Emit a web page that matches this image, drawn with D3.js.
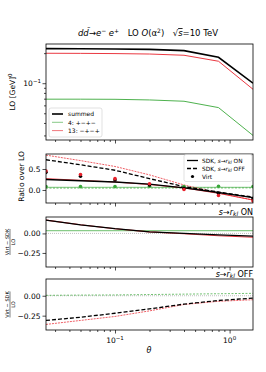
<!DOCTYPE html>
<html>
<head>
<meta charset="utf-8">
<script src="https://cdn.jsdelivr.net/npm/d3@7"></script>
<style>
body { margin: 0; background: #fff; }
text { font-family: "DejaVu Sans", sans-serif; fill: #000; }
</style>
</head>
<body>
<script>
// values
var theta = [0.025, 0.05, 0.1, 0.2, 0.4, 0.8, 1.6];

var loSummed = [0.222, 0.221, 0.220, 0.218, 0.212, 0.182, 0.100];
var loHel4   = [0.0692, 0.0692, 0.069, 0.068, 0.066, 0.057, 0.030];
var loHel13  = [0.1995, 0.199, 0.198, 0.196, 0.1905, 0.166, 0.087];

var sdkOnSum   = [0.25, 0.22, 0.19, 0.14, 0.05, -0.06, -0.18];
var sdkOnHel13 = [0.27, 0.23, 0.19, 0.13, 0.05, -0.08, -0.24];
var sdkOnHel4  = [0.06, 0.06, 0.06, 0.06, 0.06, 0.06, 0.06];
var sdkOffSum   = [0.72, 0.60, 0.47, 0.27, 0.08, -0.05, -0.17];
var sdkOffHel13 = [0.83, 0.70, 0.56, 0.36, 0.12, -0.07, -0.24];
var sdkOffHel4  = [0.045, 0.045, 0.045, 0.046, 0.047, 0.048, 0.05];
var virtSum   = [0.42, 0.33, 0.24, 0.12, 0.04, -0.08, -0.21];
var virtHel13 = [0.45, 0.37, 0.27, 0.15, 0.01, -0.13, -0.26];
var virtHel4  = [0.08, 0.08, 0.08, 0.09, 0.08, 0.09, 0.08];

var diffOnSum   = [0.17, 0.11, 0.06, 0.02, 0.0, -0.02, -0.035];
var diffOnHel13 = [0.17, 0.11, 0.06, 0.02, -0.005, -0.03, -0.05];
var diffOnHel4  = [0.035, 0.035, 0.035, 0.035, 0.035, 0.035, 0.035];
var diffOffSum   = [-0.31, -0.27, -0.22, -0.165, -0.105, -0.06, -0.03];
var diffOffHel13 = [-0.36, -0.31, -0.26, -0.19, -0.11, -0.07, -0.05];
var diffOffHel4  = [0.005, 0.008, 0.01, 0.015, 0.02, 0.025, 0.03];

var xMajor = [0.1, 1];
var xMinor = [0.03, 0.04, 0.05, 0.06, 0.07, 0.08, 0.09, 0.2, 0.3, 0.4, 0.5, 0.6, 0.7, 0.8, 0.9];
var loMajor = [0.1];
var loMinor = [0.03, 0.04, 0.05, 0.06, 0.07, 0.08, 0.09, 0.2];
var ratioTicks = [0, 0.5];
var diffTicks = [0, -0.25];

var black = "#000", red = "#e8212b", green = "#3aa83a";

var width = 266, height = 372;
var left = 46, right = 253;

var svg = d3.select("body").append("svg")
    .attr("width", width)
    .attr("height", height);

var x = d3.scaleLog().domain([0.025, 1.6]).range([left, right]);

var panels = [
    { top: 44, bottom: 140 },
    { top: 154, bottom: 203 },
    { top: 217, bottom: 267 },
    { top: 279, bottom: 330 }
];

var yLo = d3.scaleLog().domain([0.027, 0.247]).range([panels[0].bottom, panels[0].top]);
var yRatio = d3.scaleLinear().domain([-0.31, 0.857]).range([panels[1].bottom, panels[1].top]);
var yOn = d3.scaleLinear().domain([-0.43, 0.21]).range([panels[2].bottom, panels[2].top]);
var yOff = d3.scaleLinear().domain([-0.43, 0.21]).range([panels[3].bottom, panels[3].top]);
var yScales = [yLo, yRatio, yOn, yOff];

function clipFor(i) {
    svg.append("clipPath").attr("id", "clip" + i)
    .append("rect")
    .attr("x", left).attr("y", panels[i].top)
    .attr("width", right - left).attr("height", panels[i].bottom - panels[i].top);
    return svg.append("g").attr("clip-path", "url(#clip" + i + ")");
}

function drawLine(g, y, vals, color, w, dash, op) {
    var line = d3.line()
    .x(function(d, i) { return x(theta[i]); })
    .y(function(d) { return y(d); });
    g.append("path")
    .datum(vals)
    .attr("d", line)
    .attr("fill", "none")
    .attr("stroke", color)
    .attr("stroke-width", w)
    .attr("stroke-dasharray", dash || null)
    .attr("opacity", op || 1);
}

function drawDots(g, y, vals, color) {
    g.selectAll(null)
    .data(vals)
    .enter().append("circle")
    .attr("cx", function(d, i) { return x(theta[i]); })
    .attr("cy", function(d) { return y(d); })
    .attr("r", 1.8)
    .attr("fill", color);
}

function xAxis(i, labels) {
    var g = svg.append("g").attr("transform", "translate(0," + panels[i].bottom + ")");
    g.call(d3.axisBottom(x).tickValues(xMajor).tickSize(3.5).tickFormat(""));
    g.append("g").call(d3.axisBottom(x).tickValues(xMinor).tickSize(2).tickFormat(""));
    g.selectAll(".domain").remove();
    g.selectAll("line").attr("stroke-width", 0.7);
    if (labels) {
        var t = g.selectAll(null).data(xMajor).enter().append("text")
        .attr("x", function(d) { return x(d); })
        .attr("y", 13)
        .attr("text-anchor", "middle")
        .attr("font-size", 7.5);
        t.text("10");
        t.append("tspan").attr("dy", -3).attr("font-size", 5.5)
        .text(function(d) { return d < 1 ? "\u22121" : "0"; });
    }
}

function frame(i) {
    svg.append("rect")
    .attr("x", left).attr("y", panels[i].top)
    .attr("width", right - left).attr("height", panels[i].bottom - panels[i].top)
    .attr("fill", "none")
    .attr("stroke", "#000")
    .attr("stroke-width", 0.8);
}

function yAxisLinear(i, ticks, fmt) {
    var g = svg.append("g").attr("transform", "translate(" + left + ",0)");
    g.call(d3.axisLeft(yScales[i]).tickValues(ticks).tickSize(3.5).tickPadding(2).tickFormat(fmt));
    g.selectAll(".domain").remove();
    g.selectAll("line").attr("stroke-width", 0.7);
    g.selectAll("text").attr("font-size", 7.5).style("font-family", "DejaVu Sans");
}

function skText(t, before, after, sub) {
    t.append("tspan").text(before);
    t.append("tspan").attr("font-style", "italic").text("s");
    t.append("tspan").text("\u2192");
    t.append("tspan").attr("font-style", "italic").text("r");
    t.append("tspan").attr("font-style", "italic").attr("font-size", sub).attr("dy", 1.5).text("kl");
    t.append("tspan").attr("dy", -1.5).text(after);
}

// ---- panel 1: LO
var g0 = clipFor(0);
drawLine(g0, yLo, loHel4, green, 0.9);
drawLine(g0, yLo, loHel13, red, 0.9);
drawLine(g0, yLo, loSummed, black, 1.6);

var ya = svg.append("g").attr("transform", "translate(" + left + ",0)");
ya.call(d3.axisLeft(yLo).tickValues(loMajor).tickSize(3.5).tickFormat(""));
ya.append("g").call(d3.axisLeft(yLo).tickValues(loMinor).tickSize(2).tickFormat(""));
ya.selectAll(".domain").remove();
ya.selectAll("line").attr("stroke-width", 0.7);
var lt = ya.append("text").attr("x", -5).attr("y", yLo(0.1) + 2.5)
.attr("text-anchor", "end").attr("font-size", 7.5).text("10");
lt.append("tspan").attr("dy", -3).attr("font-size", 5.5).text("\u22121");

svg.append("text")
.attr("transform", "translate(15," + ((panels[0].top + panels[0].bottom) / 2) + ")rotate(-90)")
.attr("text-anchor", "middle").attr("font-size", 7.5)
.text("LO [GeV]")
.append("tspan").attr("dy", -3).attr("font-size", 5.5).text("0");

// title
var title = svg.append("text")
.attr("x", 148).attr("y", 36)
.attr("text-anchor", "middle")
.attr("font-size", 8.5);
title.append("tspan").attr("font-style", "italic").text("dd\u0304");
title.append("tspan").text("\u2192");
title.append("tspan").attr("font-style", "italic").text("e");
title.append("tspan").attr("dy", -3.5).attr("font-size", 6).text("\u2212");
title.append("tspan").attr("dy", 3.5).attr("font-style", "italic").text(" e");
title.append("tspan").attr("dy", -3.5).attr("font-size", 6).text("+");
title.append("tspan").attr("dy", 3.5).text("\u2003LO ");
title.append("tspan").attr("font-style", "italic").text("O");
title.append("tspan").text("(\u03b1");
title.append("tspan").attr("dy", -3.5).attr("font-size", 6).text("2");
title.append("tspan").attr("dy", 3.5).text(")\u2003\u221a");
title.append("tspan").attr("font-style", "italic").attr("text-decoration", "overline").text("s");
title.append("tspan").text("=10 TeV");

// legend panel 1
var leg1 = svg.append("g").attr("transform", "translate(49,108)");
leg1.append("rect").attr("width", 53).attr("height", 29).attr("rx", 2)
.attr("fill", "#fff").attr("fill-opacity", 0.8).attr("stroke", "#ccc").attr("stroke-width", 0.6);
var leg1Items = [
    { label: "summed", color: black, w: 1.6, op: 1 },
    { label: "4: +\u2212+\u2212", color: green, w: 1, op: 0.6 },
    { label: "13: \u2212+\u2212+", color: red, w: 1, op: 0.6 }
];
leg1Items.forEach(function(d, i) {
    leg1.append("line").attr("x1", 3).attr("x2", 14)
    .attr("y1", 6 + i * 8.3).attr("y2", 6 + i * 8.3)
    .attr("stroke", d.color).attr("stroke-width", d.w).attr("opacity", d.op);
    leg1.append("text").attr("x", 19).attr("y", 8.2 + i * 8.3)
    .attr("font-size", 6).text(d.label);
});

frame(0);
xAxis(0, false);

// ---- panel 2: ratio over LO
var g1 = clipFor(1);
drawLine(g1, yRatio, sdkOnHel4, green, 1.3, null, 0.55);
drawLine(g1, yRatio, sdkOffHel4, green, 0.9, "2,1.5", 0.8);
drawLine(g1, yRatio, sdkOffHel13, red, 0.8, "2,1", 0.9);
drawLine(g1, yRatio, sdkOnHel13, red, 1, null, 0.9);
drawLine(g1, yRatio, sdkOffSum, black, 1.3, "4,2");
drawLine(g1, yRatio, sdkOnSum, black, 1.3);
drawDots(g1, yRatio, virtHel4, green);
drawDots(g1, yRatio, virtSum, black);
drawDots(g1, yRatio, virtHel13, red);

frame(1);
xAxis(1, false);
yAxisLinear(1, ratioTicks, d3.format(".1f"));
svg.append("text")
.attr("transform", "translate(24," + ((panels[1].top + panels[1].bottom) / 2 - 2) + ")rotate(-90)")
.attr("text-anchor", "middle").attr("font-size", 7.5)
.text("Ratio over LO");

var leg2 = svg.append("g").attr("transform", "translate(184,154.5)");
leg2.append("rect").attr("width", 68).attr("height", 27).attr("rx", 2)
.attr("fill", "#fff").attr("fill-opacity", 0.8).attr("stroke", "#ccc").attr("stroke-width", 0.6);
var leg2Items = [
    { tag: "ON", dash: null },
    { tag: "OFF", dash: "4,2" },
    { tag: null, dash: null }
];
leg2Items.forEach(function(d, i) {
    var yy = 6 + i * 8;
    if (d.tag) {
        leg2.append("line").attr("x1", 3).attr("x2", 14).attr("y1", yy).attr("y2", yy)
        .attr("stroke", black).attr("stroke-width", 1.3).attr("stroke-dasharray", d.dash);
        var t = leg2.append("text").attr("x", 18).attr("y", yy + 2).attr("font-size", 5.8);
        skText(t, "SDK, ", " " + d.tag, 4.5);
    } else {
        leg2.append("circle").attr("cx", 8.5).attr("cy", yy).attr("r", 1.6).attr("fill", black);
        leg2.append("text").attr("x", 18).attr("y", yy + 2).attr("font-size", 5.8).text("Virt");
    }
});

// ---- panel 3: s -> r_kl ON
var g2 = clipFor(2);
g2.append("line").attr("x1", left).attr("x2", right)
.attr("y1", yOn(0)).attr("y2", yOn(0))
.attr("stroke", "#999").attr("stroke-width", 0.6).attr("stroke-dasharray", "1,1");
drawLine(g2, yOn, diffOnHel4, green, 1.3, null, 0.6);
drawLine(g2, yOn, diffOnHel13, red, 1.1, null, 0.9);
drawLine(g2, yOn, diffOnSum, black, 1.3);
frame(2);
xAxis(2, false);
yAxisLinear(2, diffTicks, d3.format(".2f"));

var on = svg.append("text").attr("x", right).attr("y", 214.5)
.attr("text-anchor", "end").attr("font-size", 8);
skText(on, "", " ON", 6);

// ---- panel 4: s -> r_kl OFF
var g3 = clipFor(3);
g3.append("line").attr("x1", left).attr("x2", right)
.attr("y1", yOff(0)).attr("y2", yOff(0))
.attr("stroke", "#999").attr("stroke-width", 0.6).attr("stroke-dasharray", "1,1");
drawLine(g3, yOff, diffOffHel4, green, 0.9, "2,1.5", 0.8);
drawLine(g3, yOff, diffOffHel13, red, 0.8, "2,1", 0.9);
drawLine(g3, yOff, diffOffSum, black, 1.3, "4,2");
frame(3);
xAxis(3, true);
yAxisLinear(3, diffTicks, d3.format(".2f"));

var off = svg.append("text").attr("x", right).attr("y", 276.5)
.attr("text-anchor", "end").attr("font-size", 8);
skText(off, "", " OFF", 6);

// fraction labels
[2, 3].forEach(function(i) {
    var cy = (panels[i].top + panels[i].bottom) / 2;
    var f = svg.append("g").attr("transform", "translate(10," + cy + ")rotate(-90)");
    f.append("text").attr("x", 0).attr("y", -1.5).attr("text-anchor", "middle")
    .attr("font-size", 5).text("Virt \u2212 SDK");
    f.append("line").attr("x1", -13).attr("x2", 13).attr("y1", 0).attr("y2", 0)
    .attr("stroke", "#000").attr("stroke-width", 0.5);
    f.append("text").attr("x", 0).attr("y", 5).attr("text-anchor", "middle")
    .attr("font-size", 5).text("LO");
});

svg.append("text").attr("x", 149).attr("y", 353)
.attr("text-anchor", "middle").attr("font-size", 8).attr("font-style", "italic")
.text("\u03b8");
</script>
</body>
</html>
